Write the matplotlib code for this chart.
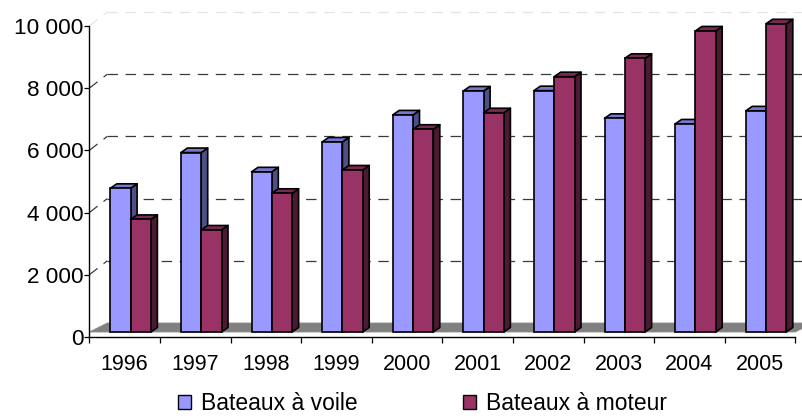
import matplotlib
matplotlib.use("Agg")
import matplotlib.pyplot as plt
from matplotlib.patches import Polygon, Patch
from matplotlib.transforms import ScaledTranslation

plt.rcParams['font.family'] = ['Liberation Sans', 'DejaVu Sans']
plt.rcParams['lines.scale_dashes'] = False

years = ['1996', '1997', '1998', '1999', '2000', '2001', '2002', '2003', '2004', '2005']
voile = [4620, 5770, 5150, 6110, 6980, 7750, 7760, 6870, 6690, 7110]
moteur = [3620, 3280, 4460, 5210, 6520, 7050, 8210, 8800, 9680, 9910]
series_names = ['Bateaux à voile', 'Bateaux à moteur']
yticks = [0, 2000, 4000, 6000, 8000, 10000]
ytick_labels = ['0', '2 000', '4 000', '6 000', '8 000', '10 000']

face_cols = ['#9999FF', '#993366']
top_cols = ['#7777CC', '#7A2952']
side_cols = ['#4F4F88', '#4D1A33']

W, H = 802, 418
fig = plt.figure(figsize=(W / 100, H / 100), dpi=100)
ax_l, ax_r, ax_t, ax_b = 89.3, 795.3, 26, 337
ax = fig.add_axes([ax_l / W, 1 - ax_b / H, (ax_r - ax_l) / W, (ax_b - ax_t) / H])
n = len(years)
ax.set_xlim(0, n)
ax.set_ylim(0, 10000)

ux = n / (ax_r - ax_l)
uy = 10000 / (ax_b - ax_t)

wall_dx, wall_dy = 18, 14
bar_dx, bar_dy = 6, 5
depth_dx, depth_dy = 6.5, 4.5

gridc = '#3A3A3A'
dash = (0, (7.5, 5.5))

floor = Polygon([(0, 5 * uy), (n, 5 * uy), (n + wall_dx * ux, wall_dy * uy), (wall_dx * ux, wall_dy * uy)],
                closed=True, facecolor='#808080', edgecolor='#8C8C8C', lw=0.6, clip_on=False, zorder=1)
ax.add_patch(floor)

for v in yticks[1:]:
    c = gridc if v < 10000 else '#E4E4E4'
    ax.plot([0, wall_dx * ux], [v, v + wall_dy * uy], color=c, lw=0.9, ls=dash, clip_on=False, zorder=1)
    ax.plot([wall_dx * ux, n + wall_dx * ux], [v + wall_dy * uy, v + wall_dy * uy], color=c, lw=0.9,
            ls=dash, clip_on=False, zorder=1)

off = ax.transData + ScaledTranslation(bar_dx / 100, bar_dy / 100, fig.dpi_scale_trans)
bw = 20.3 * ux
dx, dy = depth_dx * ux, depth_dy * uy
z = 3
for i in range(n):
    for s, vals in enumerate([voile, moteur]):
        v = vals[i]
        x0 = i + 0.5 - bw + s * bw
        x1 = x0 + bw
        side = Polygon([(x1, 0), (x1 + dx, dy), (x1 + dx, v + dy), (x1, v)], closed=True,
                       facecolor=side_cols[s], edgecolor='black', lw=1.2, transform=off,
                       clip_on=False, zorder=z, joinstyle='round')
        top = Polygon([(x0, v), (x1, v), (x1 + dx, v + dy), (x0 + dx, v + dy)], closed=True,
                      facecolor=top_cols[s], edgecolor='black', lw=1.2, transform=off,
                      clip_on=False, zorder=z, joinstyle='round')
        ax.add_patch(side)
        ax.add_patch(top)
        ax.bar(x0, v, width=bw, align='edge', color=face_cols[s], edgecolor='black', lw=1.2,
               transform=off, clip_on=False, zorder=z + 0.5)
        z += 1

for sp in ['top', 'right']:
    ax.spines[sp].set_visible(False)
ax.spines['left'].set_color('black')
ax.spines['bottom'].set_color('black')
ax.spines['left'].set_linewidth(1)
ax.spines['bottom'].set_linewidth(1)
ax.set_facecolor('none')

ax.set_yticks(yticks)
ax.set_yticklabels(ytick_labels, fontsize=16.2)
ax.tick_params(axis='y', length=3.3, width=0.9, pad=1, color='black')

ax.set_xticks(range(n + 1))
ax.set_xticklabels([''] * (n + 1))
ax.set_xticks([i + 0.5 for i in range(n)], minor=True)
ax.set_xticklabels(years, minor=True, fontsize=15.5)
ax.tick_params(axis='x', which='major', length=4.5, width=0.9, color='black')
ax.tick_params(axis='x', which='minor', length=0, pad=12)

handles = [Patch(facecolor=face_cols[0], edgecolor='black', lw=1),
           Patch(facecolor=face_cols[1], edgecolor='black', lw=1)]
fig.legend(handles, series_names, loc='center left', bbox_to_anchor=(178 / W, 1 - 404 / H),
           ncol=2, frameon=False, fontsize=16.5, borderpad=0, borderaxespad=0,
           handlelength=0.55, handleheight=0.55, handletextpad=0.45, columnspacing=4.6)

fig.savefig('out.png', dpi=100)
